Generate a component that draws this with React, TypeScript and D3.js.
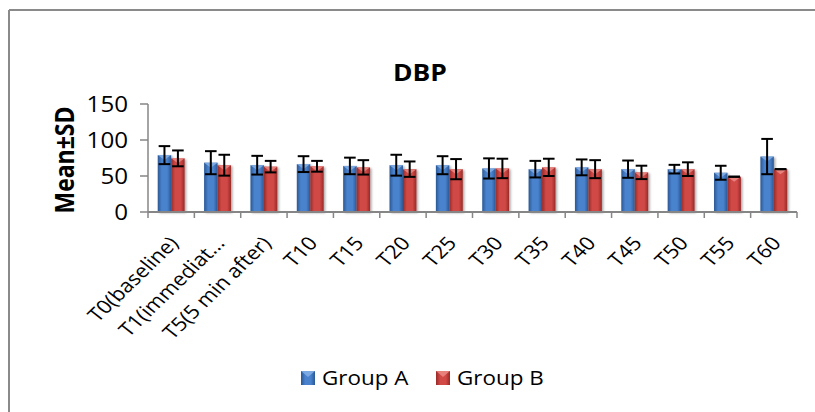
import React from "react";
import * as d3 from "d3";

const categories = [
  "T0(baseline)",
  "T1(immediat...",
  "T5(5 min after)",
  "T10",
  "T15",
  "T20",
  "T25",
  "T30",
  "T35",
  "T40",
  "T45",
  "T50",
  "T55",
  "T60",
];
const seriesNames = ["Group A", "Group B"];
const groupAMean = [79, 68.5, 65, 66.5, 64, 65, 65, 60.5, 59.5, 62, 59.5, 59.5, 54.5, 77];
const groupASD = [12.5, 16, 13, 11, 11.5, 14.5, 12.5, 14, 11.5, 11, 12, 6, 9.7, 24.5];
const groupBMean = [74.5, 65, 63, 63.5, 62, 59.5, 59.5, 60.5, 62, 59.5, 55, 59.5, 49, 59.5];
const groupBSD = [11, 14.5, 8, 7.5, 10, 10.7, 14, 13.5, 12, 12.5, 9.3, 9.5, 0, 0];
const yTicks = [0, 50, 100, 150];
const title = "DBP";
const yTitle = "Mean±SD";

const W = 815;
const H = 412;
const SX = 1.15; // slight horizontal text stretch seen in the reference
const FONT = "'Open Sans', 'Liberation Sans', sans-serif";

const palettes = [
  { edge: "#2a5894", mid: "#4a82cd", top: "#86b0e6", id: "gA" },
  { edge: "#982a28", mid: "#d14a46", top: "#ec8a86", id: "gB" },
];

export default function App() {
  const x = d3
    .scaleBand<string>()
    .domain(categories)
    .range([148, 797])
    .paddingInner(0.42)
    .paddingOuter(0.21);
  const step = x.step();
  const xs = d3.scaleBand<string>().domain(seriesNames).range([0, x.bandwidth()]).padding(0);
  const y = d3.scaleLinear().domain([0, 150]).range([212, 104]);

  const series = [
    { name: seriesNames[0], mean: groupAMean, sd: groupASD, pal: palettes[0] },
    { name: seriesNames[1], mean: groupBMean, sd: groupBSD, pal: palettes[1] },
  ];

  const boundaries = d3.range(categories.length + 1).map((i) => 148 + i * step);
  const axisColor = "#868686";

  return (
    <svg
      width={W}
      height={H}
      style={{ position: "absolute", left: 0, top: 0, background: "#fff" }}
      fontFamily={FONT}
    >
      <defs>
        {palettes.map((p) => (
          <linearGradient key={p.id} id={p.id} x1="0" x2="1" y1="0" y2="0">
            <stop offset="0" stopColor={p.edge} />
            <stop offset="0.3" stopColor={p.mid} />
            <stop offset="0.7" stopColor={p.mid} />
            <stop offset="1" stopColor={p.edge} />
          </linearGradient>
        ))}
        <filter id="sh" x="-30%" y="-10%" width="160%" height="130%">
          <feDropShadow dx="1.5" dy="1" stdDeviation="1.2" floodColor="#000" floodOpacity="0.35" />
        </filter>
      </defs>

      {/* chart border (top & left visible) */}
      <line x1={9} y1={10} x2={W} y2={10} stroke="#8a8a8a" strokeWidth={2} />
      <line x1={9} y1={10} x2={9} y2={H} stroke="#8a8a8a" strokeWidth={2} />

      {/* title */}
      <text
        transform={`translate(420,81) scale(${SX},1)`}
        textAnchor="middle"
        fontSize={23}
        fontWeight="bold"
        fill="#000"
      >
        {title}
      </text>

      {/* y axis title */}
      <text
        transform={`translate(64,160) scale(${SX},1) rotate(-90)`}
        textAnchor="middle"
        dominantBaseline="central"
        fontSize={23}
        fontWeight="bold"
        fill="#000"
      >
        {yTitle}
      </text>

      {/* bars */}
      {series.map((s) =>
        categories.map((c, i) => {
          const bx = (x(c) as number) + (xs(s.name) as number);
          const bw = xs.bandwidth();
          const by = y(s.mean[i]);
          const bh = y(0) - by;
          const th = Math.min(5, bh);
          return (
            <g key={s.name + c}>
              <rect x={bx} y={by} width={bw} height={bh} fill={`url(#${s.pal.id})`} filter="url(#sh)" />
              <polygon
                points={`${bx},${by} ${bx + bw},${by} ${bx + bw / 2},${by + th}`}
                fill={s.pal.top}
                opacity={0.85}
              />
            </g>
          );
        })
      )}

      {/* error bars */}
      {series.map((s) =>
        categories.map((c, i) => {
          const cx = (x(c) as number) + (xs(s.name) as number) + xs.bandwidth() / 2;
          const y1 = y(s.mean[i] + s.sd[i]);
          const y2 = y(s.mean[i] - s.sd[i]);
          const cw = 5.8;
          return (
            <g key={"e" + s.name + c} stroke="#000" strokeWidth={2}>
              <line x1={cx} x2={cx} y1={y1} y2={y2} />
              <line x1={cx - cw} x2={cx + cw} y1={y1} y2={y1} />
              <line x1={cx - cw} x2={cx + cw} y1={y2} y2={y2} />
            </g>
          );
        })
      )}

      {/* y axis */}
      <line x1={148} x2={148} y1={y(150)} y2={y(0)} stroke={axisColor} strokeWidth={1.5} />
      {yTicks.map((t) => (
        <g key={t}>
          <line x1={140} x2={148} y1={y(t)} y2={y(t)} stroke={axisColor} strokeWidth={1.5} />
          <text
            transform={`translate(128,${y(t)}) scale(${SX},1)`}
            textAnchor="end"
            dominantBaseline="central"
            fontSize={21}
            fill="#000"
          >
            {t}
          </text>
        </g>
      ))}

      {/* x axis */}
      <line x1={148} x2={797} y1={y(0)} y2={y(0)} stroke={axisColor} strokeWidth={2} />
      {boundaries.map((bx, i) => (
        <line key={i} x1={bx} x2={bx} y1={y(0)} y2={y(0) + 6} stroke={axisColor} strokeWidth={1.5} />
      ))}
      {categories.map((c) => {
        const cx = (x(c) as number) + x.bandwidth() / 2;
        return (
          <text
            key={c}
            transform={`translate(${cx + 2},239) scale(${SX},1) rotate(-48)`}
            textAnchor="end"
            dominantBaseline="central"
            fontSize={19}
            fill="#000"
          >
            {c}
          </text>
        );
      })}

      {/* legend */}
      {series.map((s, k) => {
        const lx = k === 0 ? 301 : 436;
        const ly = 371;
        return (
          <g key={"l" + s.name}>
            <rect x={lx} y={ly} width={14} height={14} fill={`url(#${s.pal.id})`} />
            <polygon points={`${lx},${ly} ${lx + 14},${ly} ${lx + 7},${ly + 6}`} fill={s.pal.top} opacity={0.85} />
            <text
              transform={`translate(${lx + 21},${ly + 7}) scale(${SX},1)`}
              dominantBaseline="central"
              fontSize={19.5}
              fill="#000"
            >
              {s.name}
            </text>
          </g>
        );
      })}
    </svg>
  );
}
